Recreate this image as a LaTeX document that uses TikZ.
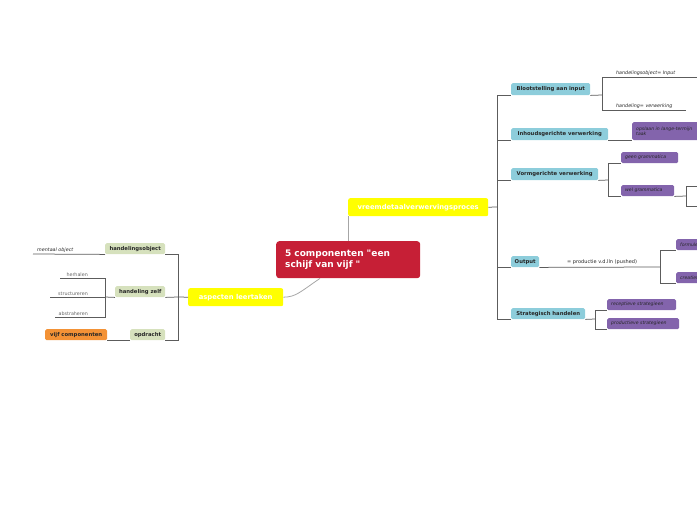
\documentclass[tikz,border=0pt]{standalone}
\usepackage{fontspec}
\setmainfont{DejaVu Sans}[Ligatures=TeXOff]
\definecolor{redC}{HTML}{C61F36}
\definecolor{yellowC}{HTML}{FFFF00}
\definecolor{blueC}{HTML}{8DCDDB}
\definecolor{greenC}{HTML}{D6E1BD}
\definecolor{purpleC}{HTML}{8364AC}
\definecolor{orangeC}{HTML}{F39236}
\definecolor{lineC}{HTML}{5C5C5C}
\begin{document}
\begin{tikzpicture}[x=1pt,y=-1pt,
  central/.style={fill=redC, rounded corners=3pt, text=white, anchor=north west,
    font=\fontsize{9}{11}\selectfont\bfseries, align=left, inner xsep=9pt, inner ysep=0pt},
  ybox/.style={fill=yellowC, rounded corners=2pt, text=white, anchor=north west,
    font=\fontsize{6.8}{7.5}\selectfont\bfseries, inner sep=0pt, minimum height=18pt},
  bbox/.style={fill=blueC, rounded corners=1.5pt, text=black!85, anchor=north west,
    font=\fontsize{5.3}{6.2}\selectfont\bfseries, inner sep=0pt, minimum height=12pt},
  gbox/.style={bbox, fill=greenC, minimum height=11pt},
  obox/.style={bbox, fill=orangeC, minimum height=11pt},
  pbox/.style={fill=purpleC, rounded corners=1.5pt, text=black!85, anchor=north west,
    font=\fontsize{4.6}{5.3}\selectfont\itshape, inner xsep=4pt, inner ysep=0pt,
    minimum height=11pt, align=left},
  lbl/.style={font=\fontsize{4.8}{5.6}\selectfont\itshape, text=black!85, inner xsep=1pt, inner ysep=1.5pt},
  glbl/.style={font=\fontsize{4.8}{5.6}\selectfont, text=black!60, inner xsep=1pt, inner ysep=1.5pt},
  conn/.style={draw=lineC, line width=0.75pt},
  softconn/.style={draw=black!35, line width=0.8pt}
]
\useasboundingbox (0,0) rectangle (697,520);

% central
\node[central, minimum width=144pt, minimum height=37pt, text width=126pt] (c) at (276,241)
  {5 componenten "een\\schijf van vijf "};

% main branches
\node[ybox, minimum width=140pt] (v) at (348,198) {vreemdetaalverwervingsproces};
\node[ybox, minimum width=95pt] (a) at (188,288) {aspecten leertaken};
\draw[softconn] (v.south west) -- (v.south west |- c.north);
\draw[softconn] ([xshift=44pt]c.south west) .. controls (300,292) and (296,297) .. (a.east);

% right side
\coordinate (rj) at (497,207);
\draw[conn] (v.east) -- (rj);

\node[bbox, minimum width=79pt] (b1) at (511,83) {Blootstelling aan input};
\node[bbox, minimum width=97pt] (b2) at (511,128) {Inhoudsgerichte verwerking};
\node[bbox, minimum width=87pt] (b3) at (511,168) {Vormgerichte verwerking};
\node[bbox, minimum width=28pt, minimum height=11pt] (b4) at (511,256) {Output};
\node[bbox, minimum width=74pt, minimum height=11pt] (b5) at (511,308) {Strategisch handelen};
\foreach \n in {b1,b2,b3,b4,b5} \draw[conn] (rj) |- (\n.south west);

% Blootstelling children
\coordinate (j1) at (602,95);
\node[lbl, anchor=south west] (h1) at (615,77) {handelingsobject= Input};
\node[lbl, anchor=south west] (h2) at (615,110) {handeling= verwerking};
\coordinate (h1e) at (697,77);
\coordinate (h2e) at (686,110);
\draw[conn] (b1.south east) -- (j1);
\draw[conn] (j1) |- (h1e);
\draw[conn] (j1) |- (h2e);

% Inhoudsgerichte child
\node[pbox, minimum width=100pt, minimum height=18pt, text width=92pt] (p2) at (632,122)
  {opslaan in lange-termijn\\taak};
\draw[conn] (b2.south east) -- (p2.south west);

% Vormgerichte children
\coordinate (j3) at (608,180);
\node[pbox, minimum width=57pt, text width=49pt] (p3a) at (621,152) {geen grammatica};
\node[pbox, minimum width=53pt, text width=45pt] (p3b) at (621,185) {wel grammatica};
\draw[conn] (b3.south east) -- (j3);
\draw[conn] (j3) |- (p3a.south west);
\draw[conn] (j3) |- (p3b.south west);
\coordinate (j3b) at (686,196);
\coordinate (k1) at (697,186);
\coordinate (k2) at (697,206);
\draw[conn] (p3b.south east) -- (j3b);
\draw[conn] (j3b) |- (k1);
\draw[conn] (j3b) |- (k2);

% Output children
\coordinate (j4) at (660,267);
\node[anchor=south west, font=\fontsize{5}{5.8}\selectfont, text=black!85, inner xsep=1pt, inner ysep=1.8pt] (ol) at (566,267) {= productie v.d.lln (pushed)};
\node[pbox, minimum width=60pt, text width=52pt] (p4a) at (676,239) {formuleren};
\node[pbox, minimum width=60pt, text width=52pt] (p4b) at (676,272) {creatief};
\draw[conn] (b4.south east) -- (j4);
\draw[conn] (j4) |- (p4a.south west);
\draw[conn] (j4) |- (p4b.south west);

% Strategisch children
\coordinate (j5) at (595,319);
\node[pbox, minimum width=69pt, text width=61pt] (p5a) at (607,299) {receptieve strategieen};
\node[pbox, minimum width=72pt, text width=64pt] (p5b) at (607,318) {productieve strategieen};
\draw[conn] (b5.south east) -- (j5);
\draw[conn] (j5) |- (p5a.south west);
\draw[conn] (j5) |- (p5b.south west);

% left side
\coordinate (lj) at (178,297);
\draw[conn] (a.west) -- (lj);
\node[gbox, minimum width=60pt] (g1) at (105,243) {handelingsobject};
\node[gbox, minimum width=50pt] (g2) at (115,286) {handeling zelf};
\node[gbox, minimum width=35pt] (g3) at (130,329) {opdracht};
\node[obox, minimum width=62pt] (o) at (45,329) {vijf componenten};
\draw[conn] (lj) |- (g1.south east);
\draw[conn] (lj) -- (g2.south east);
\draw[conn] (lj) |- (g3.south east);

\node[lbl, anchor=south west] (mo) at (36,254) {mentaal object};
\coordinate (moe) at (33,254);
\draw[conn] (g1.south west) -- (moe);

\coordinate (jb) at (105,297);
\draw[conn] (g2.south west) -- (jb);
\node[glbl, anchor=south east] (hh) at (89,278) {herhalen};
\node[glbl, anchor=south east] (st) at (89,297) {structureren};
\node[glbl, anchor=south east] (ab) at (89,317) {abstraheren};
\coordinate (hhe) at (60,278);
\coordinate (ste) at (50,297);
\coordinate (abe) at (55,317);
\draw[conn] (jb) |- (hhe);
\draw[conn] (jb) -- (ste);
\draw[conn] (jb) |- (abe);

\draw[conn] (g3.south west) -- (o.south east);
\end{tikzpicture}
\end{document}
